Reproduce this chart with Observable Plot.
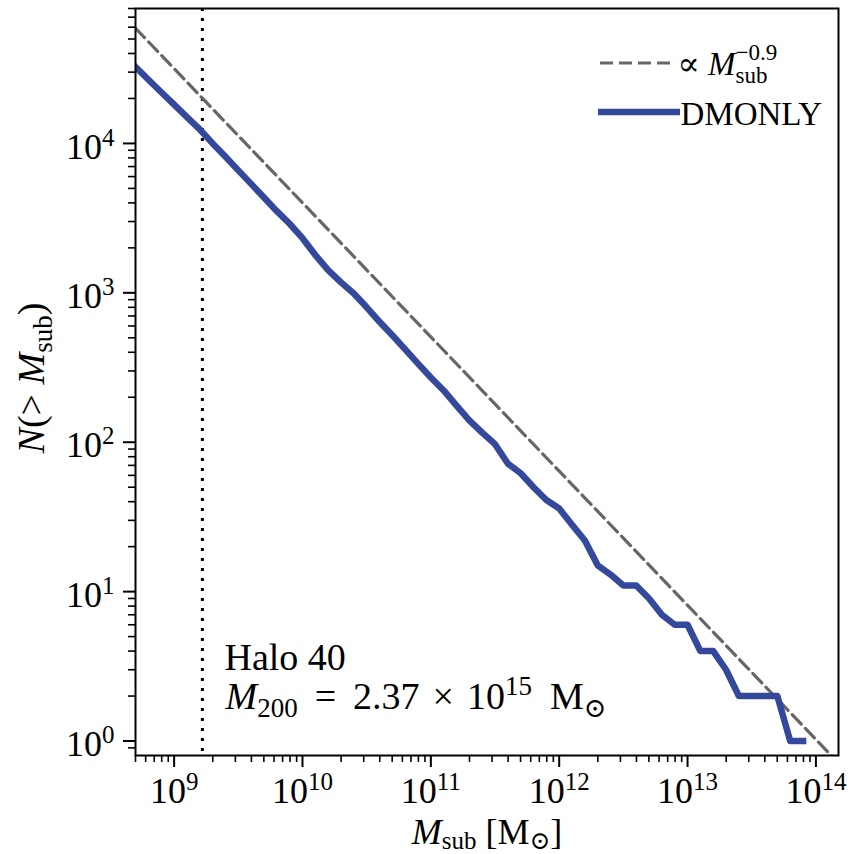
<!DOCTYPE html>
<html>
<head>
<meta charset="utf-8">
<script src="https://cdn.jsdelivr.net/npm/d3@7"></script>
<script src="https://cdn.jsdelivr.net/npm/@observablehq/plot@0.6"></script>
<style>
  html, body { margin: 0; padding: 0; background: #fff; }
  #chart svg { display: block; }
</style>
</head>
<body>
<div id="chart"></div>
<script>
// ---------- data ----------
const logMsub = [8.7, 8.8, 8.9, 9.0, 9.1, 9.2, 9.3, 9.4, 9.5, 9.6, 9.7, 9.8, 9.9,
  10.0, 10.1, 10.2, 10.3, 10.4, 10.5, 10.6, 10.7, 10.8, 10.9,
  11.0, 11.1, 11.2, 11.3, 11.4, 11.5, 11.6, 11.7, 11.8, 11.9,
  12.0, 12.1, 12.2, 12.3, 12.4, 12.5, 12.6, 12.7, 12.8, 12.9,
  13.0, 13.1, 13.2, 13.3, 13.4, 13.5, 13.6, 13.7, 13.8, 13.9];
const nCumulative = [32400, 26700, 22000, 18200, 15000, 12400, 10000, 8150, 6600, 5360, 4340, 3520, 2900,
  2320, 1790, 1420, 1175, 990, 800, 640, 520, 418, 336,
  271, 222, 176, 140, 116, 97, 72, 62, 50, 41,
  36, 28, 22, 15, 13, 11, 11, 9, 7, 6,
  6, 4, 4, 3, 2, 2, 2, 2, 1, 1];
const seriesName = "DMONLY";
// power-law guide  (∝ M^-0.9), endpoints
const refLineMsub = [5e8, 2e14];
const refLineN = [5.9e4, 0.55];
const resolutionMsub = 1.66e9;
const haloName = "Halo 40";
const haloMass = "2.37";
const haloMassExp = "15";
const xMajorTicks = [1e9, 1e10, 1e11, 1e12, 1e13, 1e14];
const yMajorTicks = [1, 10, 100, 1000, 10000];
const xDomain = [5e8, 1.5e14];
const yDomain = [0.8, 8e4];

// minor ticks (2..9 × 10^k) inside the domains
function minorTicks([lo, hi]) {
  const out = [];
  for (let e = Math.floor(Math.log10(lo)); e <= Math.ceil(Math.log10(hi)); e++)
    for (let k = 2; k <= 9; k++) { const v = k * 10 ** e; if (v >= lo * 0.999 && v <= hi * 1.001) out.push(v); }
  return out;
}
const xMinorTicks = minorTicks(xDomain);
const yMinorTicks = [0.9, ...minorTicks([1, yDomain[1]])];

// ---------- layout / style ----------
const W = 853, H = 854, mL = 135, mR = 15, mT = 8, mB = 99;
const BLUE = "#34489c", GREY = "#666666";
const FT = 36, FA = 38, FX = 36, FL = 33;
const FONT = "'Liberation Serif', 'DejaVu Serif', serif";

const curve = logMsub.map((lm, i) => ({m: 10 ** lm, n: nCumulative[i]}));
const guide = refLineMsub.map((m, i) => ({m, n: refLineN[i]}));
const expOf = d => String(Math.round(Math.log10(d)));

// placeholder keys replaced by rich text afterwards
const K = {x: "§xlabel", y: "§ylabel", mass: "§mass", guide: "§guide"};

const plot = Plot.plot({
  width: W, height: H,
  marginLeft: mL, marginRight: mR, marginTop: mT, marginBottom: mB,
  style: {fontFamily: FONT, background: "white", color: "black"},
  x: {type: "log", domain: xDomain},
  y: {type: "log", domain: yDomain},
  marks: [
    Plot.ruleX([resolutionMsub], {stroke: "black", strokeWidth: 3, strokeDasharray: "3,7"}),
    Plot.line(guide, {x: "m", y: "n", stroke: GREY, strokeWidth: 3.2, strokeDasharray: "13,6", clip: true}),
    Plot.line(curve, {x: "m", y: "n", stroke: BLUE, strokeWidth: 6.5, strokeLinejoin: "round", strokeLinecap: "square", clip: true}),
    Plot.axisX(xMinorTicks, {tickSize: 7, strokeWidth: 1.6, tickFormat: () => "", label: null}),
    Plot.axisX(xMajorTicks, {tickSize: 12, strokeWidth: 2, tickPadding: 10, fontSize: FT, tickFormat: d => "10^" + expOf(d), label: null}),
    Plot.axisY(yMinorTicks, {tickSize: 7, strokeWidth: 1.6, tickFormat: () => "", label: null}),
    Plot.axisY(yMajorTicks, {tickSize: 12, strokeWidth: 2, tickPadding: 9, fontSize: FT, tickFormat: d => "10^" + expOf(d), label: null}),
    Plot.frame({stroke: "black", strokeWidth: 2}),
    // axis titles
    Plot.text([K.x], {text: d => d, frameAnchor: "bottom", dy: 88, lineAnchor: "bottom", textAnchor: "middle", fontSize: FX}),
    Plot.text([K.y], {text: d => d, frameAnchor: "left", dx: -92, dy: -4, rotate: -90, lineAnchor: "bottom", textAnchor: "middle", fontSize: FA}),
    // annotation
    Plot.text([haloName], {text: d => d, frameAnchor: "top-left", dx: 89, dy: 661, lineAnchor: "bottom", textAnchor: "start", fontSize: FA}),
    Plot.text([K.mass], {text: d => d, frameAnchor: "top-left", dx: 90, dy: 700, lineAnchor: "bottom", textAnchor: "start", fontSize: FA}),
    // legend labels
    Plot.text([K.guide], {text: d => d, frameAnchor: "top-left", dx: 542, dy: 66, lineAnchor: "bottom", textAnchor: "start", fontSize: FL}),
    Plot.text([seriesName], {text: d => d, frameAnchor: "top-left", dx: 545, dy: 116, lineAnchor: "bottom", textAnchor: "start", fontSize: FL})
  ]
});
document.getElementById("chart").appendChild(plot);

// ---------- rich text (italic, sub/superscripts) ----------
const NS = "http://www.w3.org/2000/svg";
function setRich(el, parts) {
  if (!el) return [];
  while (el.firstChild) el.removeChild(el.firstChild);
  let cur = 0;
  const made = [];
  for (const p of parts) {
    const ts = document.createElementNS(NS, "tspan");
    ts.textContent = p.t;
    const target = p.sup ? -p.sup : (p.sub ? p.sub : 0);
    if (target !== cur) ts.setAttribute("dy", target - cur);
    cur = target;
    if (p.size) ts.setAttribute("font-size", p.size);
    if (p.it) ts.setAttribute("font-style", "italic");
    if (p.dx) ts.setAttribute("dx", p.dx);
    el.appendChild(ts);
    made.push(ts);
  }
  return made;
}
const allText = Array.from(plot.querySelectorAll("text"));
const byContent = s => allText.find(t => t.textContent === s);

// tick labels 10^k
allText.forEach(t => {
  const s = t.textContent;
  if (!/^10\^\d+$/.test(s)) return;
  const [b, e] = s.split("^");
  setRich(t, [{t: b}, {t: e, sup: Math.round(FT * 0.36), size: Math.round(FT * 0.7)}]);
});
d3.select(plot).selectAll('g[aria-label="y-axis tick label"] text').attr("y", "0.42em");

const subA = Math.round(FA * 0.2), szA = Math.round(FA * 0.7);
setRich(byContent(K.x), [
  {t: "M", it: 1}, {t: "sub", sub: 5, size: Math.round(FX * 0.7)}, {t: " [M"}, {t: "⊙", sub: 5, size: Math.round(FX * 0.7)}, {t: "]"}
]);
setRich(byContent(K.y), [
  {t: "N", it: 1}, {t: "(> "}, {t: "M", it: 1}, {t: "sub", sub: subA, size: szA}, {t: ")"}
]);
setRich(byContent(K.mass), [
  {t: "M", it: 1}, {t: "200", sub: subA, size: szA},
  {t: "=", dx: 17}, {t: haloMass, dx: 17},
  {t: "×", dx: 13}, {t: "10", dx: 13},
  {t: haloMassExp, sup: Math.round(FA * 0.38), size: szA},
  {t: "M", dx: 18}, {t: "⊙", sub: subA, size: szA}
]);
const subL = Math.round(FL * 0.25), szL = Math.round(FL * 0.7);
const lg = setRich(byContent(K.guide), [
  {t: "∝ "}, {t: "M", it: 1}, {t: "sub", sub: subL, size: szL}, {t: "−0.9", sup: Math.round(FL * 0.45), size: szL}
]);
if (lg.length) {
  const subW = lg[2].getComputedTextLength();
  lg[3].setAttribute("dx", -subW);
}

// legend handles
const svg = d3.select(plot);
svg.append("line").attr("x1", 600).attr("x2", 675).attr("y1", 63).attr("y2", 63)
  .attr("stroke", GREY).attr("stroke-width", 3.2).attr("stroke-dasharray", "13,6");
svg.append("line").attr("x1", 598).attr("x2", 680).attr("y1", 112).attr("y2", 112)
  .attr("stroke", BLUE).attr("stroke-width", 6.5);
</script>
</body>
</html>
